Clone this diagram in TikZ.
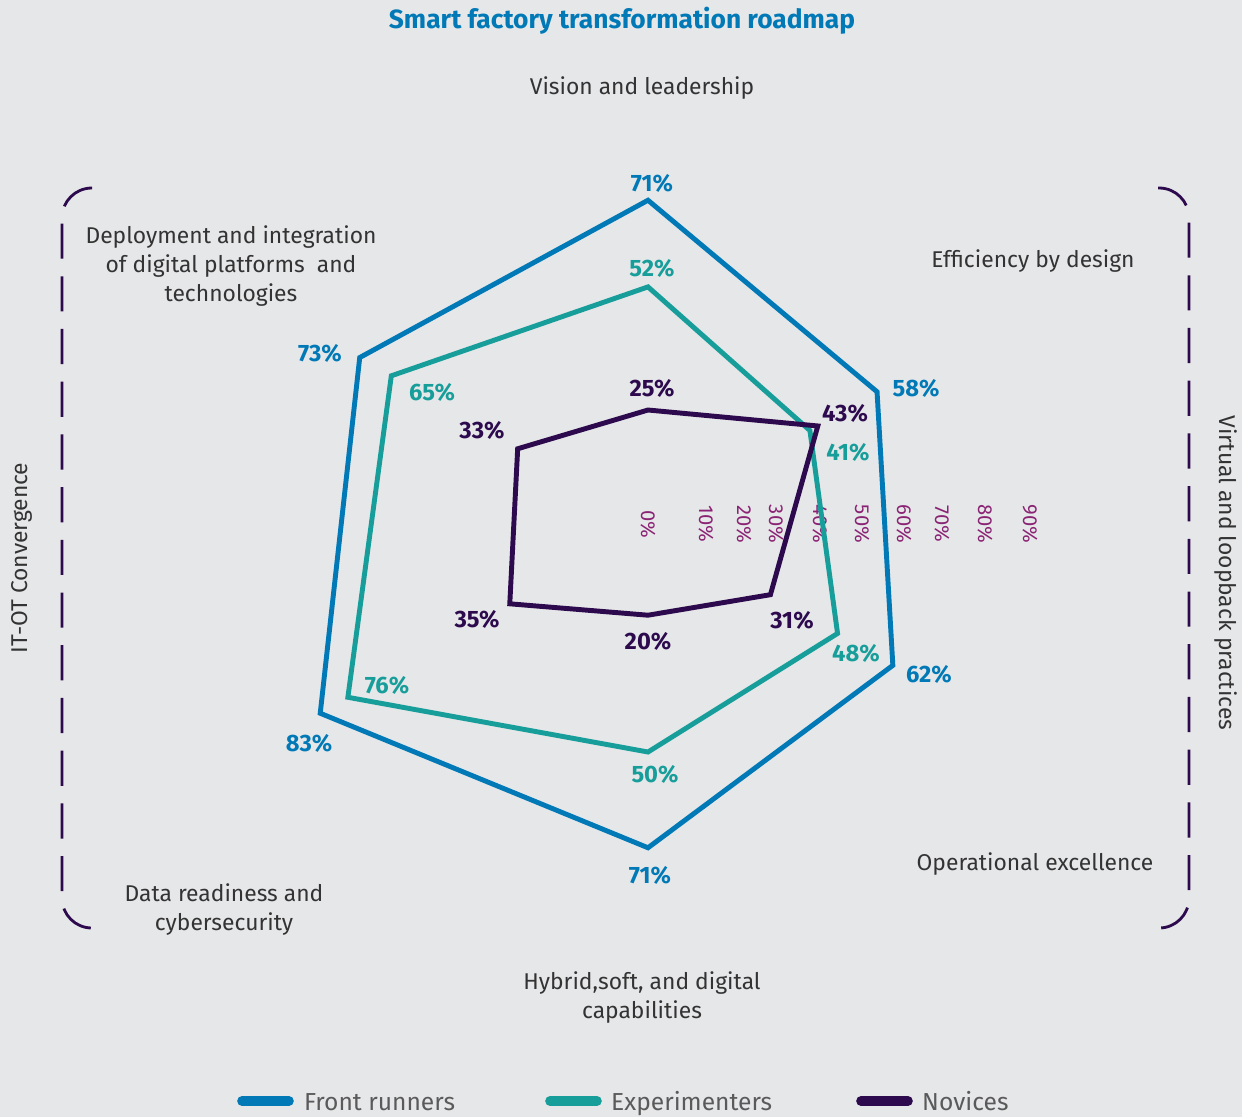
\documentclass[tikz,border=0pt]{standalone}
\usepackage{fontspec}
\setmainfont{Fira Sans}
\usetikzlibrary{calc}
\begin{document}
\begin{tikzpicture}[x=0.02cm,y=-0.02cm]
\definecolor{bg}{HTML}{E6E7E9}
\definecolor{cfront}{HTML}{0079B6}
\definecolor{cexp}{HTML}{179E9A}
\definecolor{cnov}{HTML}{2C0A4D}
\definecolor{ctick}{HTML}{8A2374}
\definecolor{ctext}{HTML}{333333}
\definecolor{cleg}{HTML}{5A5A5A}
\tikzset{
  series/.style={line width=2.8pt, line join=miter},
  axlabel/.style={text=ctext, font=\fontsize{13}{16.5}\selectfont, align=center},
  pct/.style={font=\bfseries\fontsize{13.5}{15}\selectfont},
  tick/.style={text=ctick, font=\fontsize{11.5}{13}\selectfont, rotate=-90},
  bracket/.style={cnov, line width=1.6pt, dash pattern=on 20pt off 10pt, rounded corners=17pt},
  legline/.style={line width=5.5pt, line cap=round},
  legtext/.style={text=cleg, font=\fontsize{14}{16}\selectfont, anchor=base west}
}
\fill[bg] (0,0) rectangle (1242,1117);
\useasboundingbox (0,0) rectangle (1242,1117);

% title
\node[text=cfront, font=\bfseries\fontsize{15}{18}\selectfont] (title) at (622,21) {Smart factory transformation roadmap};

% axis labels
\node[axlabel] (ax1) at (642,88) {Vision and leadership};
\node[axlabel] (ax2) at (1033,261) {Efficiency by design};
\node[axlabel] (ax3) at (1035,864) {Operational excellence};
\node[axlabel] (ax4) at (642,998) {Hybrid,soft, and digital\\capabilities};
\node[axlabel] (ax5) at (224,910) {Data readiness and\\cybersecurity};
\node[axlabel] (ax6) at (231,266) {Deployment and integration\\of digital platforms\ \ and\\technologies};
\node[axlabel, rotate=90] (side1) at (22,558) {IT-OT Convergence};
\node[axlabel, rotate=-90] (side2) at (1226,573) {Virtual and loopback practices};

% brackets
\draw[bracket] (92,188) -- (62,188) -- (62,928) -- (92,928);
\draw[bracket] (1158,188) -- (1189,188) -- (1189,928) -- (1158,928);

% ticks
\foreach \x/\t [count=\i] in {648/0\%,706/10\%,744/20\%,776/30\%,820/40\%,862/50\%,904/60\%,942/70\%,985/80\%,1030/90\%}
  \node[tick] (t\i) at (\x,524) {\t};

% series coordinates (center 648,524; 100% = 456px)
\coordinate (c) at (648,524);
\foreach \name/\va/\vb/\vc/\vd/\ve/\vf in {F/71/58/62/71/83/73, E/52/41/48/50/76/65, N/25/43/31/20/35/33}{
  \coordinate (\name1) at ($(c)+(-90:\va*4.56)$);
  \coordinate (\name2) at ($(c)+(-30:\vb*4.56)$);
  \coordinate (\name3) at ($(c)+(30:\vc*4.56)$);
  \coordinate (\name4) at ($(c)+(90:\vd*4.56)$);
  \coordinate (\name5) at ($(c)+(150:\ve*4.56)$);
  \coordinate (\name6) at ($(c)+(210:\vf*4.56)$);
}
\draw[series, cfront] (F1) -- (F2) -- (F3) -- (F4) -- (F5) -- (F6) -- cycle;
\draw[series, cexp] (E1) -- (E2) -- (E3) -- (E4) -- (E5) -- (E6) -- cycle;
\draw[series, cnov] (N1) -- (N2) -- (N3) -- (N4) -- (N5) -- (N6) -- cycle;

% value labels
\node[pct, text=cfront] (lf1) at (652,183) {71\%};
\node[pct, text=cfront] (lf2) at (916,388) {58\%};
\node[pct, text=cfront] (lf3) at (929,674) {62\%};
\node[pct, text=cfront] (lf4) at (650,875) {71\%};
\node[pct, text=cfront] (lf5) at (309,743) {83\%};
\node[pct, text=cfront] (lf6) at (320,353) {73\%};

\node[pct, text=cexp] (le1) at (652,268) {52\%};
\node[pct, text=cexp] (le2) at (848,452) {41\%};
\node[pct, text=cexp] (le3) at (856,653) {48\%};
\node[pct, text=cexp] (le4) at (655,774) {50\%};
\node[pct, text=cexp] (le5) at (387,685) {76\%};
\node[pct, text=cexp] (le6) at (432,392) {65\%};

\node[pct, text=cnov] (ln1) at (652,388) {25\%};
\node[pct, text=cnov] (ln2) at (845,413) {43\%};
\node[pct, text=cnov] (ln3) at (792,620) {31\%};
\node[pct, text=cnov] (ln4) at (648,641) {20\%};
\node[pct, text=cnov] (ln5) at (477,619) {35\%};
\node[pct, text=cnov] (ln6) at (482,430) {33\%};

% legend
\coordinate (la1) at (242,1101); \coordinate (lb1) at (289,1101);
\coordinate (la2) at (550,1101); \coordinate (lb2) at (597,1101);
\coordinate (la3) at (861,1101); \coordinate (lb3) at (908,1101);
\draw[legline, cfront] (la1) -- (lb1);
\draw[legline, cexp] (la2) -- (lb2);
\draw[legline, cnov] (la3) -- (lb3);
\node[legtext] (lt1) at (298,1110) {Front runners};
\node[legtext] (lt2) at (605,1110) {Experimenters};
\node[legtext] (lt3) at (916,1110) {Novices};
\end{tikzpicture}
\end{document}
